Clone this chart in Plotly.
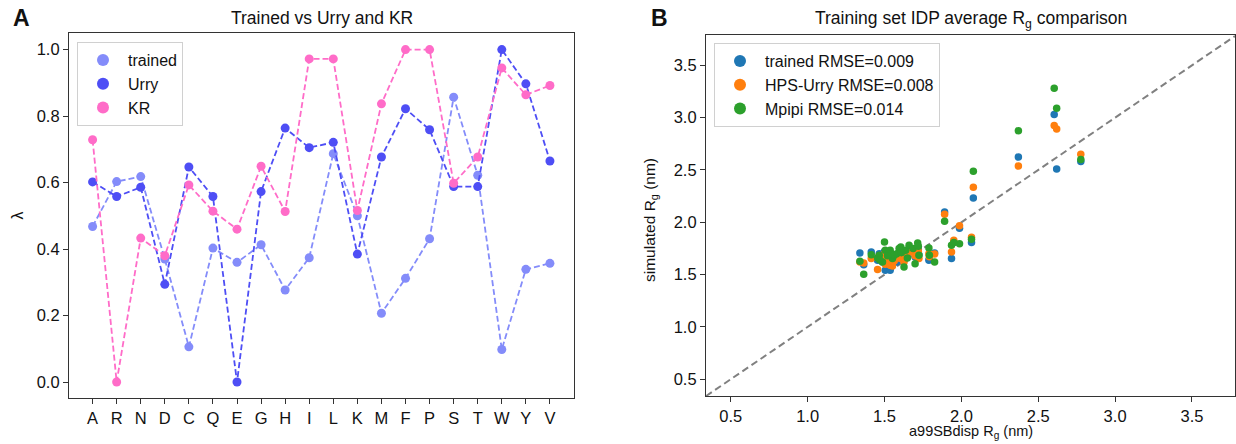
import plotly.graph_objects as go

# ---------------- Panel A: per-residue lambda values ----------------
residues = ["A", "R", "N", "D", "C", "Q", "E", "G", "H", "I",
            "L", "K", "M", "F", "P", "S", "T", "W", "Y", "V"]
lambda_trained = [0.468, 0.603, 0.618, 0.37, 0.106, 0.403, 0.360, 0.413, 0.277, 0.374,
                  0.687, 0.500, 0.207, 0.312, 0.431, 0.857, 0.622, 0.098, 0.339, 0.357]
lambda_urry = [0.602, 0.558, 0.586, 0.294, 0.647, 0.558, 0.0, 0.573, 0.764, 0.705,
               0.721, 0.385, 0.677, 0.822, 0.759, 0.588, 0.588, 1.0, 0.897, 0.665]
lambda_kr = [0.729, 0.0, 0.433, 0.380, 0.593, 0.514, 0.460, 0.649, 0.513, 0.972,
             0.972, 0.516, 0.837, 1.0, 1.0, 0.598, 0.677, 0.945, 0.864, 0.892]

# ---------------- Panel B: average Rg per training-set IDP ----------------
rg_ref = [1.340, 1.365, 1.414, 1.455, 1.466, 1.500, 1.505, 1.487, 1.537, 1.552,
          1.541, 1.563, 1.595, 1.606, 1.627, 1.638, 1.649, 1.660, 1.686, 1.699,
          1.716, 1.724, 1.720, 1.789, 1.792, 1.826, 1.891, 1.936, 1.951, 1.988,
          2.066, 2.078, 2.371, 2.604, 2.620, 2.777, 1.580, 1.520, 1.470, 1.610]
rg_trained = [1.707, 1.595, 1.716, 1.637, 1.700, 1.720, 1.541, 1.620, 1.541, 1.600,
              1.680, 1.660, 1.700, 1.670, 1.637, 1.700, 1.680, 1.740, 1.730, 1.668,
              1.760, 1.690, 1.740, 1.637, 1.650, 1.707, 2.098, 1.655, 1.810, 1.943,
              1.806, 2.232, 2.624, 3.030, 2.510, 2.580, 1.620, 1.650, 1.670, 1.720]
rg_urry = [1.620, 1.611, 1.653, 1.548, 1.680, 1.700, 1.600, 1.640, 1.589, 1.582,
           1.660, 1.630, 1.685, 1.653, 1.620, 1.720, 1.700, 1.730, 1.717, 1.680,
           1.750, 1.653, 1.720, 1.700, 1.670, 1.696, 2.076, 1.716, 1.828, 1.968,
           1.857, 2.334, 2.538, 2.924, 2.891, 2.650, 1.660, 1.620, 1.650, 1.700]
rg_mpipi = [1.627, 1.503, 1.690, 1.660, 1.685, 1.812, 1.732, 1.621, 1.732, 1.653,
            1.700, 1.685, 1.749, 1.764, 1.573, 1.732, 1.660, 1.780, 1.749, 1.605,
            1.802, 1.685, 1.770, 1.755, 1.685, 1.621, 2.010, 1.780, 1.806, 1.796,
            1.838, 2.487, 2.876, 3.280, 3.089, 2.600, 1.700, 1.680, 1.640, 1.710]
rmse_labels = ["trained RMSE=0.009", "HPS-Urry RMSE=0.008", "Mpipi RMSE=0.014"]

# ---------------- styling ----------------
W, H = 1236, 444
FONT = "Liberation Sans, Arial, Helvetica, sans-serif"
TXT = "#111111"
C_TRAINED = "rgb(132,140,250)"
C_URRY = "rgb(78,78,245)"
C_KR = "rgb(255,108,200)"
TAB = ["#1f77b4", "#ff7f0e", "#2ca02c"]

# panel geometry in pixels (left, right, top, bottom)
A_BOX = (69, 574, 33, 398)
B_BOX = (706, 1235, 35, 396)
B_LIM = [0.339, 3.78]


def px_x(x):
    return x / W


def px_y(y):
    return 1 - y / H


fig = go.Figure()

for name, vals, col in [("trained", lambda_trained, C_TRAINED),
                        ("Urry", lambda_urry, C_URRY),
                        ("KR", lambda_kr, C_KR)]:
    # dashed connecting line (kept out of the legend)
    fig.add_trace(go.Scatter(
        x=residues, y=vals, mode="lines", showlegend=False, hoverinfo="skip",
        line=dict(color=col, width=1.8, dash="6px,3px"),
        xaxis="x", yaxis="y"))
    # point markers, shown in the legend as dots only
    fig.add_trace(go.Scatter(
        x=residues, y=vals, name=name, mode="markers",
        marker=dict(color=col, size=9),
        xaxis="x", yaxis="y", legend="legend"))

# y = x reference line spanning the axis limits
fig.add_trace(go.Scatter(
    x=B_LIM, y=B_LIM, mode="lines", showlegend=False, hoverinfo="skip",
    line=dict(color="#808080", width=2, dash="7px,4px"),
    xaxis="x2", yaxis="y2"))

for label, vals, col in zip(rmse_labels, [rg_trained, rg_urry, rg_mpipi], TAB):
    fig.add_trace(go.Scatter(
        x=rg_ref, y=vals, name=label, mode="markers",
        marker=dict(color=col, size=7.5),
        xaxis="x2", yaxis="y2", legend="legend2"))

axis_common = dict(
    showline=True, linecolor="#333333", linewidth=1.2, mirror=True,
    ticks="outside", ticklen=5, tickwidth=1.2, tickcolor="#333333",
    showgrid=False, zeroline=False,
    tickfont=dict(family=FONT, size=16.5, color=TXT),
)

legend_common = dict(
    xanchor="left", yanchor="top",
    bgcolor="rgba(255,255,255,0.85)", bordercolor="#d0d0d0", borderwidth=1,
    font=dict(family=FONT, size=16, color=TXT), itemsizing="constant",
    itemwidth=40, tracegroupgap=0,
)

fig.update_layout(
    width=W, height=H,
    margin=dict(l=0, r=0, t=0, b=0),
    paper_bgcolor="white", plot_bgcolor="white",
    font=dict(family=FONT, color=TXT),
    xaxis=dict(axis_common, domain=[px_x(A_BOX[0]), px_x(A_BOX[1])],
               type="category", range=[-0.98, 20.0], anchor="y"),
    yaxis=dict(axis_common, domain=[px_y(A_BOX[3]), px_y(A_BOX[2])],
               range=[-0.048, 1.05], dtick=0.2, tickformat=".1f", anchor="x"),
    xaxis2=dict(axis_common, domain=[px_x(B_BOX[0]), px_x(B_BOX[1])],
                range=B_LIM, dtick=0.5, tickformat=".1f", anchor="y2"),
    yaxis2=dict(axis_common, domain=[px_y(B_BOX[3]), px_y(B_BOX[2])],
                range=[0.34, 3.79], dtick=0.5, tickformat=".1f", anchor="x2"),
    legend=dict(legend_common, x=px_x(77), y=px_y(42)),
    legend2=dict(legend_common, x=px_x(714), y=px_y(43)),
    showlegend=True,
)

annotations = [
    # panel letters
    dict(text="<b>A</b>", x=px_x(11), y=px_y(18), font=dict(size=23)),
    dict(text="<b>B</b>", x=px_x(649), y=px_y(18), font=dict(size=23)),
    # titles
    dict(text="Trained vs Urry and KR", x=px_x((A_BOX[0] + A_BOX[1]) / 2),
         y=px_y(18), xanchor="center", font=dict(size=17.5)),
    dict(text="Training set IDP average R<sub>g</sub> comparison",
         x=px_x((B_BOX[0] + B_BOX[1]) / 2), y=px_y(19), xanchor="center",
         font=dict(size=17.5)),
    # axis labels
    dict(text="λ", x=px_x(17), y=px_y((A_BOX[2] + A_BOX[3]) / 2),
         xanchor="center", textangle=-90, font=dict(size=16)),
    dict(text="simulated R<sub>g</sub> (nm)", x=px_x(650), y=px_y(220),
         xanchor="center", textangle=-90, font=dict(size=15.5)),
    dict(text="a99SBdisp R<sub>g</sub> (nm)", x=px_x((B_BOX[0] + B_BOX[1]) / 2),
         y=px_y(432), xanchor="center", font=dict(size=14.5)),
]
for a in annotations:
    a.setdefault("xanchor", "left")
    a.update(xref="paper", yref="paper", yanchor="middle", showarrow=False)
    a["font"] = dict(family=FONT, color=TXT, **a["font"])
fig.update_layout(annotations=annotations)

fig.write_html("out.html")
